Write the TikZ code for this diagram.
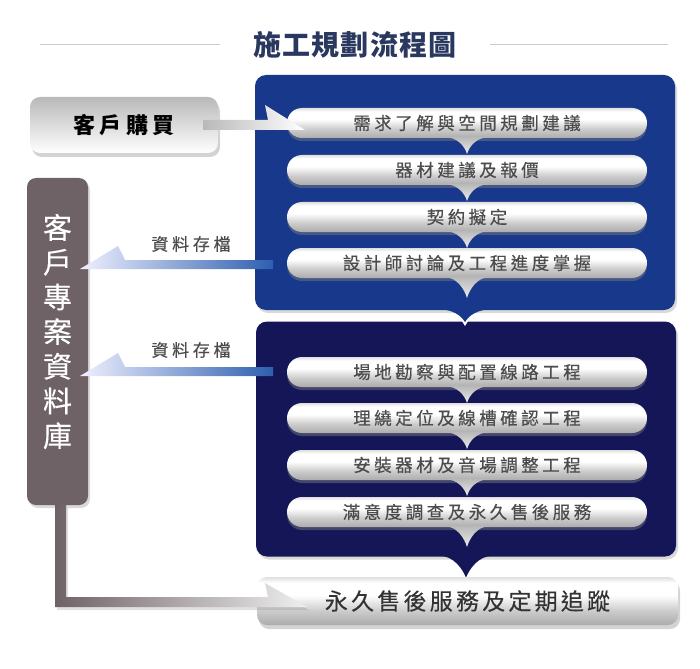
\documentclass[tikz,border=0pt]{standalone}
\usepackage{fontspec}
\usepackage{xcolor}
\usepackage{tikz}
\usetikzlibrary{shapes.misc,shadows}

\newfontfamily\cjk{Noto Sans CJK TC}

\definecolor{upblue}{RGB}{24,56,140}
\definecolor{lowblue}{RGB}{20,22,88}
\definecolor{dbgray}{RGB}{110,98,102}
\definecolor{titleblue}{RGB}{42,56,96}
\definecolor{linkblue}{RGB}{45,95,175}

\pgfdeclareverticalshading{pillshade}{100bp}{color(0bp)=(gray!65); color(25bp)=(gray!65); color(40bp)=(gray!40); color(56bp)=(white); color(69bp)=(white); color(75bp)=(gray!25); color(100bp)=(gray!25)}

\begin{document}
\begin{tikzpicture}[x=1pt,y=-1pt,
    pill/.style={rounded rectangle,minimum width=360pt,minimum height=30pt,inner sep=0pt,shade,shading=pillshade,drop shadow={opacity=0.45,shadow xshift=0pt,shadow yshift=-3pt},text=black!70,font=\cjk\fontsize{17.5}{19}\selectfont\addfontfeature{LetterSpace=20,FakeBold=0.4}},
    tab/.style={top color=gray!55,bottom color=gray!15},
    box/.style={rectangle,rounded corners=11pt,minimum width=420pt,minimum height=235pt,inner sep=0pt,drop shadow={opacity=0.3,shadow xshift=2pt,shadow yshift=-3pt}},
    note/.style={text=black!70,font=\cjk\fontsize{17}{19}\selectfont\addfontfeature{LetterSpace=22,FakeBold=0.4}},
    rule/.style={draw=gray!40,line width=1pt}]
    \useasboundingbox (0,0) rectangle (700,668);

    \node[text=titleblue,font=\cjk\bfseries\fontsize{28}{30}\selectfont\addfontfeature{LetterSpace=4}] (title) at (355,45) {施工規劃流程圖};
    \coordinate (rl) at (40,45);
    \coordinate (rr) at (668,45);
    \draw[rule] (rl) -- ([xshift=-30pt]title.west);
    \draw[rule] ([xshift=30pt]title.east) -- (rr);

    \node[box,fill=upblue] (up) at (465,192.5) {};
    \node[box,fill=lowblue] (lo) at (466,439) {};
    \begin{scope}
        \clip (lo.north west) rectangle (lo.south east);
        \draw[white,line width=4pt] ([xshift=-27pt]up.south) .. controls +(15,0) and +(-3,-6) .. ([yshift=-12pt]up.south) .. controls +(3,-6) and +(-15,0) .. ([xshift=27pt]up.south);
    \end{scope}
    \fill[upblue] ([xshift=-27pt,yshift=1pt]up.south) .. controls +(15,0) and +(-3,-6) .. ([yshift=-12pt]up.south) .. controls +(3,-6) and +(-15,0) .. ([xshift=27pt,yshift=1pt]up.south) -- cycle;

    \node[pill] (s1) at (467,123) {需求了解與空間規劃建議};
    \node[pill] (s2) at (467,170) {器材建議及報價};
    \node[pill] (s3) at (467,217) {契約擬定};
    \node[pill] (s4) at (467,263) {設計師討論及工程進度掌握};
    \node[pill] (s5) at (467,372) {場地勘察與配置線路工程};
    \node[pill] (s6) at (467,418) {理繞定位及線槽確認工程};
    \node[pill] (s7) at (467,465) {安裝器材及音場調整工程};
    \node[pill] (s8) at (467,512) {滿意度調查及永久售後服務};

    \shade[tab] ([xshift=-22pt,yshift=1pt]s1.south) .. controls +(12,0) and +(-2,-8) .. ([yshift=-16pt]s1.south) .. controls +(2,-8) and +(-12,0) .. ([xshift=22pt,yshift=1pt]s1.south) -- cycle;
    \shade[tab] ([xshift=-22pt,yshift=1pt]s2.south) .. controls +(12,0) and +(-2,-8) .. ([yshift=-16pt]s2.south) .. controls +(2,-8) and +(-12,0) .. ([xshift=22pt,yshift=1pt]s2.south) -- cycle;
    \shade[tab] ([xshift=-22pt,yshift=1pt]s3.south) .. controls +(12,0) and +(-2,-8) .. ([yshift=-16pt]s3.south) .. controls +(2,-8) and +(-12,0) .. ([xshift=22pt,yshift=1pt]s3.south) -- cycle;
    \shade[tab] ([xshift=-22pt,yshift=1pt]s4.south) .. controls +(12,0) and +(-2,-8) .. ([yshift=-20pt]s4.south) .. controls +(2,-8) and +(-12,0) .. ([xshift=22pt,yshift=1pt]s4.south) -- cycle;
    \shade[tab] ([xshift=-22pt,yshift=1pt]s5.south) .. controls +(12,0) and +(-2,-8) .. ([yshift=-16pt]s5.south) .. controls +(2,-8) and +(-12,0) .. ([xshift=22pt,yshift=1pt]s5.south) -- cycle;
    \shade[tab] ([xshift=-22pt,yshift=1pt]s6.south) .. controls +(12,0) and +(-2,-8) .. ([yshift=-16pt]s6.south) .. controls +(2,-8) and +(-12,0) .. ([xshift=22pt,yshift=1pt]s6.south) -- cycle;
    \shade[tab] ([xshift=-22pt,yshift=1pt]s7.south) .. controls +(12,0) and +(-2,-8) .. ([yshift=-16pt]s7.south) .. controls +(2,-8) and +(-12,0) .. ([xshift=22pt,yshift=1pt]s7.south) -- cycle;
    \shade[tab] ([xshift=-22pt,yshift=1pt]s8.south) .. controls +(12,0) and +(-2,-8) .. ([yshift=-20pt]s8.south) .. controls +(2,-8) and +(-12,0) .. ([xshift=22pt,yshift=1pt]s8.south) -- cycle;

    \fill[lowblue] ([xshift=-27pt,yshift=1pt]lo.south) .. controls +(15,0) and +(-3,-8) .. ([yshift=-21pt]lo.south) .. controls +(3,-8) and +(-15,0) .. ([xshift=27pt,yshift=1pt]lo.south) -- cycle;

    \node[rectangle,rounded corners=10pt,minimum width=421pt,minimum height=48pt,shade,shading=pillshade,drop shadow={opacity=0.35,shadow xshift=2pt,shadow yshift=-4pt},text=black!80,font=\cjk\fontsize{23}{25}\selectfont\addfontfeature{LetterSpace=14,FakeBold=0.3}] (last) at (467.5,601) {永久售後服務及定期追蹤};

    \node[rectangle,rounded corners=10pt,minimum width=188pt,minimum height=56pt,top color=gray!55,middle color=white,bottom color=white,drop shadow={opacity=0.35,shadow xshift=2pt,shadow yshift=-4pt},font=\cjk\bfseries\fontsize{22}{24}\selectfont\addfontfeature{LetterSpace=20}] (buy) at (124,125) {客戶購買};

    \node[rectangle,rounded corners=9pt,minimum width=61pt,minimum height=327pt,fill=dbgray,drop shadow={opacity=0.3,shadow xshift=2pt,shadow yshift=-3pt}] (db) at (57.5,341.5) {};
    \node[text=white,align=center,font=\cjk\fontsize{29}{34.7}\selectfont\addfontfeature{FakeBold=0.3}] (dbtext) at ([yshift=10pt]db.center) {客\\戶\\專\\案\\資\\料\\庫};

    \coordinate (a0s) at ([xshift=-15pt]buy.east);
    \coordinate (a0t) at (305,130);
    \shade[left color=gray!55,right color=white] ([yshift=5pt]a0s) -- ([xshift=-37pt,yshift=10pt]a0t) -- ([xshift=-40pt,yshift=25pt]a0t) -- (a0t) -- (a0s |- a0t) -- cycle;

    \node[note] (n1) at (191,244) {資料存檔};
    \coordinate (a1s) at (273,264.5);
    \coordinate (a1t) at (80,269);
    \shade[left color=blue!6!white,right color=linkblue] (a1t) -- ([xshift=38pt,yshift=23pt]a1t) -- ([xshift=45pt,yshift=9pt]a1t) -- ([yshift=4.5pt]a1s) -- ([yshift=-4.5pt]a1s) -- cycle;

    \node[note] (n2) at (191,350) {資料存檔};
    \coordinate (a2s) at (273,371.5);
    \coordinate (a2t) at (80,376);
    \shade[left color=blue!6!white,right color=linkblue] (a2t) -- ([xshift=38pt,yshift=23pt]a2t) -- ([xshift=45pt,yshift=9pt]a2t) -- ([yshift=4.5pt]a2s) -- ([yshift=-4.5pt]a2s) -- cycle;

    \coordinate (c1) at ([xshift=3pt]db.south);
    \coordinate (c2) at (60.5,602);
    \coordinate (a3t) at (307,607);
    \shade[left color=dbgray,right color=gray!12,drop shadow={opacity=0.25,shadow xshift=2pt,shadow yshift=-3pt}] ([xshift=-5.5pt]c1) -- ([xshift=5.5pt]c1) -- ([xshift=5.5pt,yshift=5pt]c2) -- ([xshift=-39pt,yshift=10pt]a3t) -- ([xshift=-42pt,yshift=24pt]a3t) -- (a3t) -- ([xshift=-5.5pt,yshift=-5pt]c2) -- cycle;
\end{tikzpicture}
\end{document}
